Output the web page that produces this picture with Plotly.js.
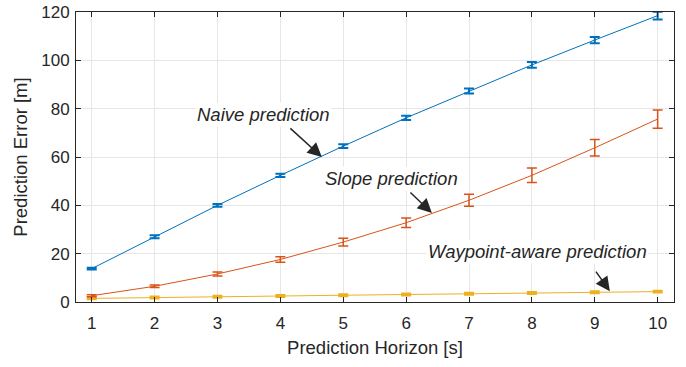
<!DOCTYPE html>
<html><head><meta charset="utf-8">
<script src="https://cdn.plot.ly/plotly-3.0.1.min.js"></script>
<style>html,body{margin:0;padding:0;background:#fff}#c{width:686px;height:367px}</style>
</head><body><div id="c"></div>
<script>
const horizon = [1,2,3,4,5,6,7,8,9,10];
const naiveMean = [13.8,27.0,40.0,52.4,64.5,76.2,87.3,98.1,108.4,118.5];
const naiveErr  = [0.4,0.6,0.6,0.7,0.8,0.9,1.0,1.2,1.3,1.6];
const slopeMean = [2.6,6.5,11.6,17.6,24.8,32.8,42.1,52.4,63.8,75.7];
const slopeErr  = [0.4,0.5,0.8,1.1,1.6,2.0,2.5,3.0,3.4,3.8];
const wayMean   = [1.5,1.9,2.2,2.5,2.8,3.1,3.4,3.7,4.0,4.3];
const wayErr    = [0.4,0.4,0.4,0.4,0.4,0.4,0.4,0.4,0.4,0.4];
const labels = ['Naive prediction','Slope prediction','Waypoint-aware prediction'];

function tr(y, e, col, ew){
  return {x: horizon, y: y, type:'scatter', mode:'lines',
    line:{color:col, width:1},
    error_y:{type:'data', array:e, visible:true, color:col, thickness:ew, width:5},
    showlegend:false, hoverinfo:'skip'};
}
const data = [
  tr(wayMean, wayErr, '#EDB120', 2),
  tr(slopeMean, slopeErr, '#D95319', 1.5),
  tr(naiveMean, naiveErr, '#0072BD', 2)
];
const fam = 'Liberation Sans, Arial, sans-serif';
const tickFont = {family:fam, size:17, color:'#262626'};
const titleFont = {family:fam, size:18.5, color:'#262626'};
const annFont = {family:fam, size:18.5, color:'#262626'};
const ann = [
  {x:3.73, y:77.4, text:'<i>'+labels[0]+'</i>', showarrow:false, font:annFont, bgcolor:'#fff'},
  {x:5.77, y:50.9, text:'<i>'+labels[1]+'</i>', showarrow:false, font:annFont, bgcolor:'#fff'},
  {x:8.09, y:20.7, text:'<i>'+labels[2]+'</i>', showarrow:false, font:annFont, bgcolor:'#fff'},
  {x:4.66, y:60, ax:-33, ay:-30, text:'', showarrow:true, arrowhead:2, arrowsize:1.9, arrowwidth:1.5, arrowcolor:'#262626'},
  {x:6.41, y:36.8, ax:-23, ay:-22, text:'', showarrow:true, arrowhead:2, arrowsize:1.9, arrowwidth:1.5, arrowcolor:'#262626'},
  {x:9.24, y:4.5, ax:-15, ay:-21, text:'', showarrow:true, arrowhead:2, arrowsize:1.9, arrowwidth:1.5, arrowcolor:'#262626'}
];
const axisCommon = {showline:true, linecolor:'#262626', linewidth:1, mirror:'ticks', ticks:'inside', ticklen:5,
  tickcolor:'#262626', showgrid:true, gridcolor:'#e6e6e6', gridwidth:1, zeroline:false, tickfont:tickFont};
const layout = {
  width:686, height:367, margin:{l:76, r:12, t:12, b:65},
  paper_bgcolor:'#fff', plot_bgcolor:'#fff', font:tickFont,
  xaxis:{...axisCommon, range:[0.75,10.26], tickvals:horizon, ticktext:horizon.map(String), ticklabelstandoff:6,
    title:{text:'Prediction Horizon [s]', font:titleFont, standoff:8}},
  yaxis:{...axisCommon, range:[0,120], tickvals:[0,20,40,60,80,100,120], ticklabelstandoff:2,
    title:{text:'Prediction Error [m]', font:titleFont, standoff:8}},
  annotations: ann
};
Plotly.newPlot('c', data, layout, {staticPlot:true, displayModeBar:false});
</script></body></html>
